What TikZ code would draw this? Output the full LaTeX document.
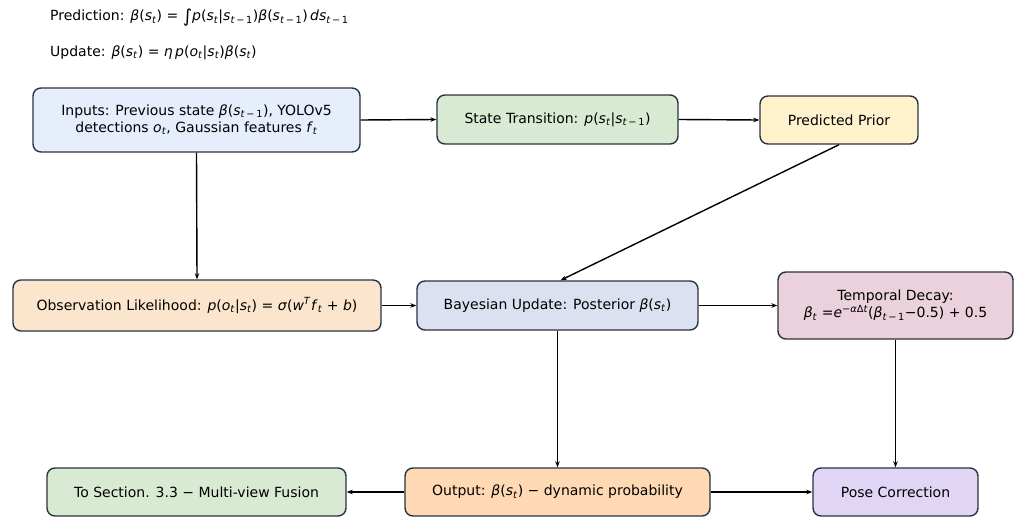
\documentclass[tikz,border=0pt]{standalone}
\usepackage{fontspec}
\setmainfont{DejaVu Sans}
\usetikzlibrary{arrows.meta}
\newcommand\I[1]{\textit{#1}}
\newcommand\sbs[1]{\textsubscript{#1}}
\newcommand\sps[1]{\textsuperscript{#1}}
\newcommand\tmo{\I{t}\,−\,1}
\definecolor{cInp}{HTML}{E6EEFB}
\definecolor{cSt}{HTML}{D9EAD3}
\definecolor{cPP}{HTML}{FFF2CC}
\definecolor{cObs}{HTML}{FCE5CD}
\definecolor{cBay}{HTML}{DCE1F2}
\definecolor{cTD}{HTML}{EAD1DC}
\definecolor{cOut}{HTML}{FFD9B3}
\definecolor{cPose}{HTML}{E1D5F5}
\definecolor{cEdge}{HTML}{2B3340}
\tikzset{
  box/.style={draw=cEdge, line width=1.4pt, rounded corners=8pt, align=center, font=\fontsize{14}{17}\selectfont, inner sep=2pt},
  conn/.style={-{Stealth[length=6pt,width=4.5pt]}, line width=1.4pt, black},
  lbl/.style={anchor=west, font=\fontsize{14}{17}\selectfont, inner sep=0pt}
}
\begin{document}
\begin{tikzpicture}[x=1pt,y=-1pt]
\useasboundingbox[fill=white] (0,0) rectangle (1017,519);
\node[lbl] (t1) at (50,18) {Prediction: \I{β}(\I{s}\sbs{\I{t}}) = \raisebox{-2pt}{\fontsize{18}{18}\selectfont ∫}\I{p}(\I{s}\sbs{\I{t}}|\I{s}\sbs{\tmo})\I{β}(\I{s}\sbs{\tmo})\,\I{ds}\sbs{\tmo}};
\node[lbl] (t2) at (50,53) {Update: \I{β}(\I{s}\sbs{\I{t}}) = \I{η}\,\I{p}(\I{o}\sbs{\I{t}}|\I{s}\sbs{\I{t}})\I{β}(\I{s}\sbs{\I{t}})};

\node[box, fill=cInp, minimum width=327pt, minimum height=64pt] (inp) at (196.5,120) {Inputs: Previous state \I{β}(\I{s}\sbs{\tmo}), YOLOv5\\detections \I{o}\sbs{\I{t}}, Gaussian features \I{f}\sbs{\I{t}}};
\node[box, fill=cSt, minimum width=241pt, minimum height=49pt] (st) at (557.5,119.5) {State Transition: \I{p}(\I{s}\sbs{\I{t}}|\I{s}\sbs{\tmo})};
\node[box, fill=cPP, minimum width=158pt, minimum height=48pt] (pp) at (839,120) {Predicted Prior};
\node[box, fill=cObs, minimum width=368pt, minimum height=51pt] (obs) at (197,305.5) {Observation Likelihood: \I{p}(\I{o}\sbs{\I{t}}|\I{s}\sbs{\I{t}}) = \I{σ}(\I{w}\sps{\I{T}}\I{f}\sbs{\I{t}} + \I{b})};
\node[box, fill=cBay, minimum width=281pt, minimum height=49pt] (bay) at (557.5,305.5) {Bayesian Update: Posterior \I{β}(\I{s}\sbs{\I{t}})};
\node[box, fill=cTD, minimum width=235pt, minimum height=67pt] (td) at (895.5,305.5) {Temporal Decay:\\\I{β}\sbs{\I{t}} =\I{e}\sps{−\I{α}Δ\I{t}}(\I{β}\sbs{\tmo}−0.5) + 0.5};
\node[box, fill=cSt, minimum width=299pt, minimum height=48pt] (sec) at (196.5,492) {To Section. 3.3 − Multi-view Fusion};
\node[box, fill=cOut, minimum width=305pt, minimum height=48pt] (out) at (557.5,492) {Output: \I{β}(\I{s}\sbs{\I{t}}) − dynamic probability};
\node[box, fill=cPose, minimum width=165pt, minimum height=48pt] (pose) at (895.5,492) {Pose Correction};

\draw[conn] (inp.east) -- (st.west);
\draw[conn] (st.east) -- (pp.west);
\draw[conn] (inp.south) -- (obs.north);
\draw[conn] (pp.south) -- ([xshift=3pt]bay.north);
\draw[conn] (obs.east) -- (bay.west);
\draw[conn] (bay.east) -- (td.west);
\draw[conn] (bay.south) -- (out.north);
\draw[conn] (td.south) -- (pose.north);
\draw[conn] (out.west) -- (sec.east);
\draw[conn] (out.east) -- (pose.west);
\end{tikzpicture}
\end{document}
